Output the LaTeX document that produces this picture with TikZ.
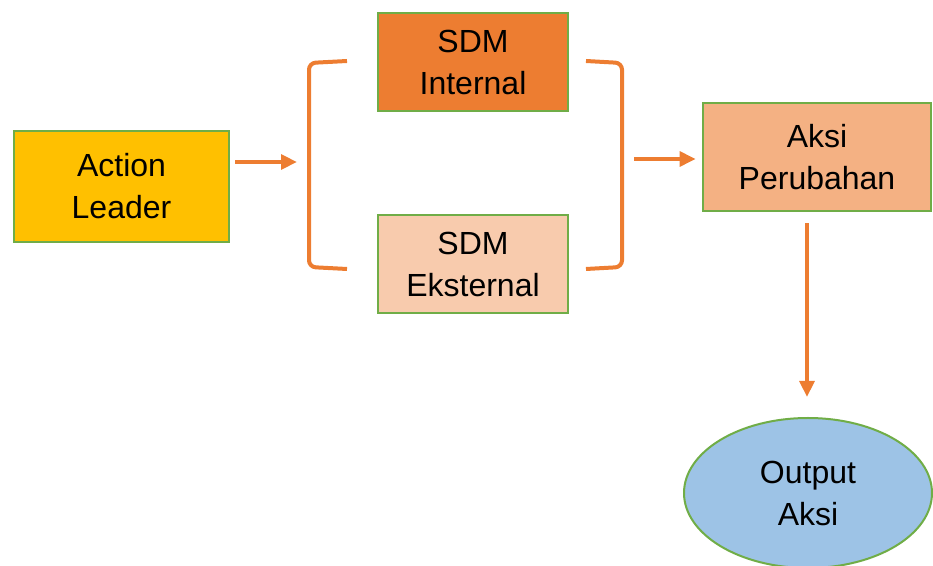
\documentclass[tikz,border=0pt]{standalone}
\usepackage{fontspec}
\setmainfont{Liberation Sans}
\usetikzlibrary{arrows.meta,shapes.geometric}
\definecolor{ldgreen}{HTML}{70AD47}
\definecolor{ldorange}{HTML}{ED7D31}
\definecolor{ldgold}{HTML}{FFC000}
\definecolor{ldpeach}{HTML}{F8CBAD}
\definecolor{ldsalmon}{HTML}{F4B183}
\definecolor{ldblue}{HTML}{9DC3E6}
\tikzset{
	ldbox/.style={draw=ldgreen, line width=2pt, inner sep=0pt, align=center,
		font=\fontsize{24}{31.5}\selectfont},
	ldarrow/.style={draw=ldorange, line width=3pt, -{Triangle[length=12pt,width=11pt]}},
	ldbracket/.style={draw=ldorange, line width=3pt, rounded corners=5pt}
}

\begin{document}
\begin{tikzpicture}[x=0.75pt, y=-0.75pt]
			%%%%% START %%%%%
			\useasboundingbox (0, 0) rectangle (933, 566);
			\clip (0, 0) rectangle (933, 566);
			
			\node[ldbox, fill=ldgold, minimum width=161.25pt, minimum height=83.25pt] (leader) at (121.5, 186.5) {Action\\Leader};
			
			\node[ldbox, fill=ldorange, minimum width=142.5pt, minimum height=73.5pt] (internal) at (473, 62) {SDM\\Internal};
			\node[ldbox, fill=ldpeach, minimum width=142.5pt, minimum height=73.5pt] (eksternal) at (473, 264) {SDM\\Eksternal};
			
			\node[ldbox, fill=ldsalmon, minimum width=171pt, minimum height=81pt] (aksi) at (817, 157) {Aksi\\Perubahan};
			
			\node[ldbox, ellipse, line width=1.5pt, fill=ldblue, minimum width=186pt, minimum height=112.5pt] (output) at (808, 493) {Output\\Aksi};
			
			% brackets
			\draw[ldbracket] (347, 61) -- (309, 63) -- (309, 267) -- (347, 269);
			\draw[ldbracket] (586, 61) -- (622, 63) -- (622, 267) -- (586, 269);
			\coordinate (lbr) at (309, 162);
			\coordinate (rbr) at (622, 159);
			
			\draw[ldarrow, shorten <=3.75pt, shorten >=9pt] (leader.east |- lbr) -- (lbr);
			\draw[ldarrow, shorten <=9pt, shorten >=4.5pt] (rbr) -- (aksi.west |- rbr);
			\draw[ldarrow, shorten <=8.25pt, shorten >=15pt] (aksi.south -| 807, 0) -- (output.north -| 807, 0);
			
			%%%%% END %%%%%
		\end{tikzpicture}
\end{document}
